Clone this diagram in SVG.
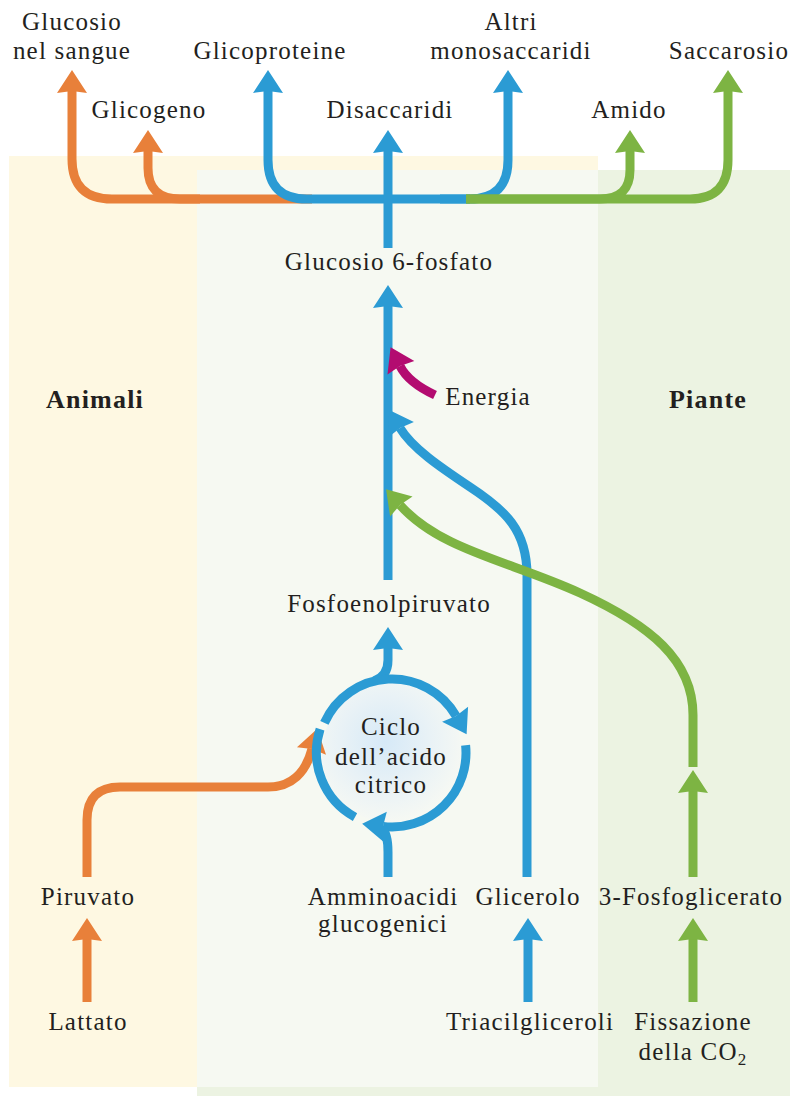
<svg xmlns="http://www.w3.org/2000/svg" width="793" height="1096" viewBox="0 0 793 1096">
<defs>
<style>
text{font-family:"Liberation Serif","Times New Roman",serif;font-size:25px;fill:#231f20;text-anchor:middle;letter-spacing:1.2px}
.b{font-weight:bold;font-size:26px;letter-spacing:1.2px}
.ln{fill:none;stroke-width:9;stroke-linecap:butt}
.o{stroke:#e8803a}.bl{stroke:#2b9bd4}.g{stroke:#7db443}.m{stroke:#b30c70}
</style>
<marker id="mo" markerUnits="userSpaceOnUse" markerWidth="24" markerHeight="30" refX="2" refY="15" orient="auto" overflow="visible"><path d="M0,0 L23,15 L0,30 L2,15 Z" fill="#e8803a"/></marker>
<marker id="mb" markerUnits="userSpaceOnUse" markerWidth="24" markerHeight="30" refX="2" refY="15" orient="auto" overflow="visible"><path d="M0,0 L23,15 L0,30 L2,15 Z" fill="#2b9bd4"/></marker>
<marker id="mg" markerUnits="userSpaceOnUse" markerWidth="24" markerHeight="30" refX="2" refY="15" orient="auto" overflow="visible"><path d="M0,0 L23,15 L0,30 L2,15 Z" fill="#7db443"/></marker>
<marker id="mm" markerUnits="userSpaceOnUse" markerWidth="24" markerHeight="30" refX="2" refY="15" orient="auto" overflow="visible"><path d="M0,0 L23,15 L0,30 L2,15 Z" fill="#b30c70"/></marker>
<radialGradient id="cyc" cx="0.45" cy="0.42" r="0.6"><stop offset="0" stop-color="#d6e9f7"/><stop offset="0.55" stop-color="#e9f2f6"/><stop offset="1" stop-color="#f7f9f3"/></radialGradient>
</defs>
<rect width="793" height="1096" fill="#ffffff"/>
<g id="background">
<rect x="9" y="156" width="589" height="931" fill="#fef8e2"/>
<rect x="197" y="170" width="593" height="926" fill="#ecf3e2"/>
<rect x="197" y="170" width="401" height="917" fill="#f6f9f2"/>
<circle cx="392" cy="753" r="70" fill="url(#cyc)"/>
</g>
<g id="connectors">
<path class="ln o" d="M312,199 H112 Q72,199 72,159 V91" marker-end="url(#mo)"/>
<path class="ln o" d="M200,199 H180 Q148,199 148,168 V151" marker-end="url(#mo)"/>
<path class="ln o" d="M87,877 V820 Q87,787 120,787 H268 C292,787 306,772 312,749" marker-end="url(#mo)"/>
<path class="ln o" d="M87,1002 V939" marker-end="url(#mo)"/>
<path class="ln bl" d="M470,199 H307 Q268,199 268,160 V91" marker-end="url(#mb)"/>
<path class="ln bl" d="M440,199 H469 Q508,199 508,160 V91" marker-end="url(#mb)"/>
<path class="ln bl" d="M388,248 V151" marker-end="url(#mb)"/>
<path class="ln bl" d="M388,580 V306" marker-end="url(#mb)"/>
<path class="ln bl" d="M527,877 V575 C527,530 505,510 470,487 C440,467 412,448 400,428" marker-end="url(#mb)"/>
<path class="ln bl" d="M528,1002 V939" marker-end="url(#mb)"/>
<path class="ln bl" d="M374,681 Q388,676 388,660 V648" marker-end="url(#mb)"/>
<path class="ln bl" d="M324.4,722.9 A74,74 0 0 1 456.1,716" marker-end="url(#mb)"/>
<path class="ln bl" d="M465.6,745.3 A74,74 0 0 1 383,826.4" marker-end="url(#mb)"/>
<path class="ln bl" d="M355,817.1 A74,74 0 0 1 320.1,729.1"/>
<path class="ln bl" d="M388,877 V852 Q388,834 382,828"/>
<path class="ln g" d="M466,199 H600 Q630,199 630,170 V151" marker-end="url(#mg)"/>
<path class="ln g" d="M466,199 H690 Q728,199 728,160 V91" marker-end="url(#mg)"/>
<path class="ln g" d="M693,877 V791" marker-end="url(#mg)"/>
<path class="ln g" d="M693,767 V715 C693,660 650,625 580,593 C510,561 440,550 400,505" marker-end="url(#mg)"/>
<path class="ln g" d="M693,1002 V939" marker-end="url(#mg)"/>
<path class="ln m" d="M435,395 C420,388 406,378 400,366" marker-end="url(#mm)"/>
</g>
<g id="n-glucosio-sangue"><text x="72" y="30">Glucosio</text><text x="72" y="59">nel sangue</text></g>
<g id="n-glicogeno"><text x="149" y="118">Glicogeno</text></g>
<g id="n-glicoproteine"><text x="270" y="59">Glicoproteine</text></g>
<g id="n-disaccaridi"><text x="390" y="118">Disaccaridi</text></g>
<g id="n-altri"><text x="511" y="30">Altri</text><text x="511" y="59">monosaccaridi</text></g>
<g id="n-amido"><text x="629" y="118">Amido</text></g>
<g id="n-saccarosio"><text x="729" y="59">Saccarosio</text></g>
<g id="n-g6p"><text x="389" y="270">Glucosio 6-fosfato</text></g>
<g id="n-energia"><text x="488" y="405">Energia</text></g>
<g id="n-animali"><text class="b" x="95" y="408">Animali</text></g>
<g id="n-piante"><text class="b" x="708" y="408">Piante</text></g>
<g id="n-pep"><text x="389" y="612">Fosfoenolpiruvato</text></g>
<g id="n-ciclo"><text x="391" y="735">Ciclo</text><text x="391" y="765">dell’acido</text><text x="391" y="793">citrico</text></g>
<g id="n-piruvato"><text x="88" y="905">Piruvato</text></g>
<g id="n-amminoacidi"><text x="383" y="905">Amminoacidi</text><text x="383" y="932">glucogenici</text></g>
<g id="n-glicerolo"><text x="528" y="905">Glicerolo</text></g>
<g id="n-3pg"><text x="691" y="905">3-Fosfoglicerato</text></g>
<g id="n-lattato"><text x="88" y="1030">Lattato</text></g>
<g id="n-triacil"><text x="530" y="1030">Triacilgliceroli</text></g>
<g id="n-fissazione"><text x="693" y="1030">Fissazione</text><text x="693" y="1060">della CO<tspan font-size="17" dy="5">2</tspan></text></g>
</svg>
